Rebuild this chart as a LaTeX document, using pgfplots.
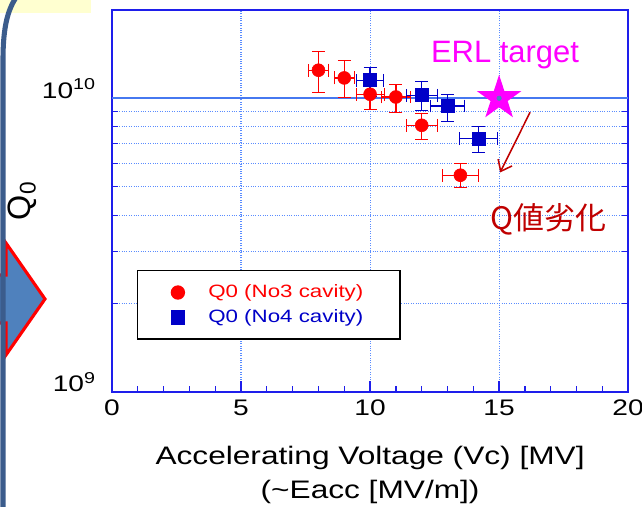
\documentclass[border=0pt]{standalone}
\usepackage{fontspec}
\setmainfont{Liberation Sans}
\newfontfamily\chartfont{Liberation Sans}[FakeStretch=1.25]
\newfontfamily\plainfont{Liberation Sans}
\newfontfamily\cjk{Noto Sans CJK JP}
\usepackage{pgfplots}
\pgfplotsset{compat=1.18}
\usetikzlibrary{arrows.meta}
\definecolor{frameblue}{RGB}{59,92,140}
\definecolor{arrowfill}{RGB}{79,129,189}
\definecolor{axblue}{RGB}{30,30,235}
\definecolor{gridblue}{RGB}{90,140,255}
\definecolor{gridsolid}{RGB}{70,120,240}
\definecolor{sqblue}{RGB}{0,0,200}
\definecolor{darkred}{RGB}{192,0,0}
\definecolor{paleyellow}{RGB}{255,255,208}
\definecolor{brightmag}{RGB}{255,0,255}
\newcommand\px{0.025cm}
\pgfdeclareplotmark{fstar}{%
  \pgfpathmoveto{\pgfpointpolar{90}{\pgfplotmarksize}}%
  \pgfpathlineto{\pgfpointpolar{126}{0.382*\pgfplotmarksize}}%
  \pgfpathlineto{\pgfpointpolar{162}{\pgfplotmarksize}}%
  \pgfpathlineto{\pgfpointpolar{198}{0.382*\pgfplotmarksize}}%
  \pgfpathlineto{\pgfpointpolar{234}{\pgfplotmarksize}}%
  \pgfpathlineto{\pgfpointpolar{270}{0.382*\pgfplotmarksize}}%
  \pgfpathlineto{\pgfpointpolar{306}{\pgfplotmarksize}}%
  \pgfpathlineto{\pgfpointpolar{342}{0.382*\pgfplotmarksize}}%
  \pgfpathlineto{\pgfpointpolar{18}{\pgfplotmarksize}}%
  \pgfpathlineto{\pgfpointpolar{54}{0.382*\pgfplotmarksize}}%
  \pgfpathclose
  \pgfusepathqfill}
\begin{document}
\begin{tikzpicture}
\fill[white] (0,0) rectangle (642*\px,506*\px);
\path[use as bounding box] (0,0) rectangle (642*\px,506*\px);
\clip (0,0) rectangle (642*\px,506*\px);
\begin{scope}[x=\px,y=\px]
  \fill[paleyellow] (0,493) rectangle (91,506);
  \draw[red, fill=arrowfill, line width=2.2pt, line join=miter]
    (-10,231) -- (6,231) -- (6,263) -- (45,207) -- (6,151) -- (6,183) -- (-10,183) -- cycle;
  \draw[frameblue, line width=3.6pt] (3,-10) -- (3,446) .. controls (3,480) and (8,497) .. (17,510);
\end{scope}
\begin{axis}[
  at={(112*\px,114*\px)}, anchor=south west,
  scale only axis, width=12.9cm, height=9.55cm,
  xmin=0, xmax=20, ymode=log, ymin=1e9, ymax=2e10,
  xtick={0,5,10,15,20}, minor x tick num=4,
  ytick={1e9,1e10}, yticklabels={10\textsuperscript{9},10\textsuperscript{10}},
  xtick pos=left,
  xmajorgrids, ymajorgrids, yminorgrids,
  major grid style={gridblue, line width=0.8pt, dash pattern=on 0.7pt off 1pt},
  minor grid style={gridblue, line width=0.8pt, dash pattern=on 0.7pt off 1pt},
  axis line style={axblue, line width=1.4pt},
  tick style={axblue, line width=0.9pt},
  major tick length=8pt, minor tick length=4.5pt,
  tick label style={font=\chartfont\fontsize{16}{16}\selectfont},
  /pgf/number format/assume math mode=true,
  xticklabel style={yshift=-2pt},
  yticklabel style={anchor=base east, xshift=-8pt},
  xlabel={Accelerating Voltage (Vc) [MV]\\(\textasciitilde Eacc [MV/m])},
  xlabel style={align=center, font=\chartfont\fontsize{18}{24.5}\selectfont, at={(axis description cs:0.5,-0.128)}, anchor=north},
  ylabel={Q\textsubscript{0}},
  ylabel style={at={(axis description cs:-0.174,0.5)}, anchor=center, font=\plainfont\fontsize{23}{23}\selectfont},
  legend style={at={(0.0484,0.319)}, anchor=north west, draw=black, line width=1pt, fill=white,
    font=\chartfont\fontsize{12.7}{12.7}\selectfont, inner xsep=24pt, inner ysep=8.1pt, row sep=3pt,
    /tikz/every odd column/.append style={column sep=15pt}},
  legend cell align=left,
]
\draw[gridsolid, line width=1.1pt] (axis cs:0,1e10) -- (axis cs:20,1e10);
\addplot[only marks, mark=*, mark size=4.6pt, color=red,
  error bars/.cd, x dir=both, x explicit, y dir=both, y explicit,
  error bar style={line width=1pt, red}]
coordinates {
  (8,1.246e10) += (0.4,2.04e9) -= (0.4,2.0e9)
  (9,1.173e10) += (0.4,1.75e9) -= (0.4,1.68e9)
  (10,1.032e10) += (0.55,0.84e9) -= (0.55,1.15e9)
  (11,1.01e10) += (0.55,1.06e9) -= (0.55,1.17e9)
  (12,8.09e9) += (0.6,0.78e9) -= (0.6,0.85e9)
  (13.5,5.47e9) += (0.7,0.56e9) -= (0.7,0.51e9)
};
\addlegendentry{\textcolor{red}{Q0 (No3 cavity)}\hspace{-16.5pt}}
\addplot[only marks, mark=square*, mark size=4.6pt, color=sqblue,
  error bars/.cd, x dir=both, x explicit, y dir=both, y explicit,
  error bar style={line width=1pt, sqblue}]
coordinates {
  (10,1.152e10) += (0.52,1.27e9) -= (0.52,1.34e9)
  (12,1.024e10) += (0.6,1.22e9) -= (0.6,1.14e9)
  (13,9.41e9) += (0.65,0.91e9) -= (0.65,1.04e9)
  (14.2,7.28e9) += (0.73,0.76e9) -= (0.73,0.75e9)
};
\addlegendentry{\textcolor{sqblue}{Q0 (No4 cavity)}\hspace{-16.5pt}}
\addplot[only marks, mark=fstar, mark size=16.7pt, color=brightmag, forget plot] coordinates {(15,1e10)};
\addplot[only marks, mark=*, mark size=1.6pt, color=arrowfill, forget plot] coordinates {(15,1e10)};
\node[anchor=base, text=brightmag, font=\plainfont\fontsize{22}{22}\selectfont] at (axis cs:15.23,1.327e10) {ERL target};
\draw[darkred, line width=1.1pt, -{Straight Barb[length=7pt,width=11pt]}] (axis cs:16.2,8.96e9) -- (axis cs:15.04,5.59e9);
\node[anchor=base, text=darkred, font=\cjk\fontsize{22}{22}\selectfont] at (axis cs:16.9,3.573e9) {Q値劣化};
\end{axis}
\end{tikzpicture}
\end{document}
